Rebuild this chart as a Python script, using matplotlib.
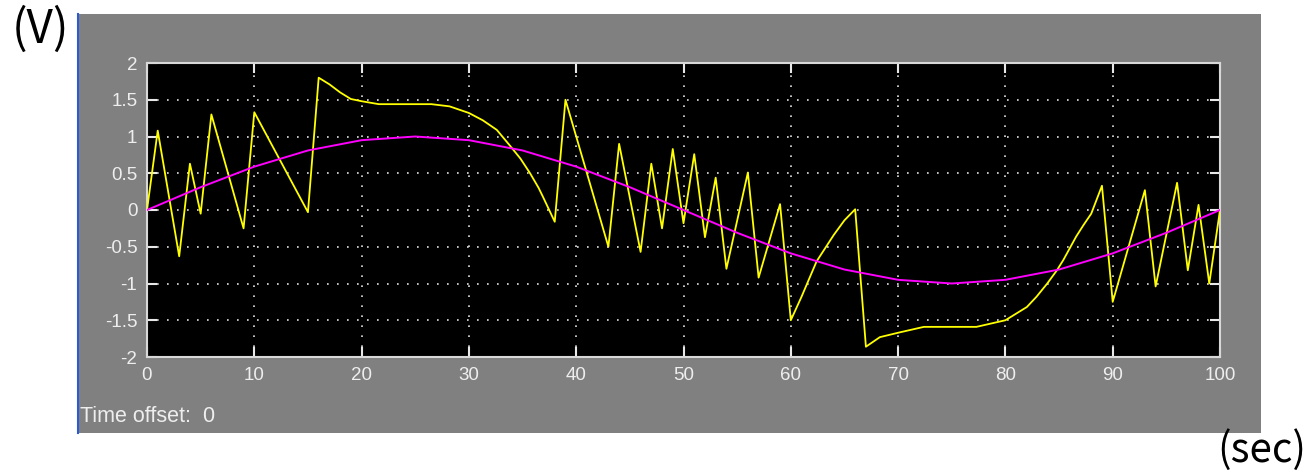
import matplotlib
matplotlib.use("Agg")
import matplotlib.pyplot as plt
import matplotlib.patches as mpatches
from matplotlib.lines import Line2D

# scope traces (time in sec, value in V)
yellow_t = [0, 1, 3, 4, 5, 6, 9, 10, 15, 16, 17, 18, 19, 20, 21.6, 26.5, 28.2, 30, 31.3, 32.6,
            33.8, 34.8, 35.7, 36.5, 36.9, 38, 39, 43, 44, 46, 47, 48, 49, 50, 51, 52, 53, 54, 56, 57, 59, 60,
            61, 62.4, 63.2, 64, 65, 66, 67, 68.3, 70, 72.4, 77.3, 80, 81, 82, 82.9, 83.9, 84.8, 85.4, 86.6, 87.3,
            88, 89, 90, 93, 94, 96, 97, 98, 99, 100]
yellow_v = [0, 1.08, -0.63, 0.63, -0.05, 1.3, -0.25, 1.33, -0.03, 1.8, 1.71, 1.6, 1.51, 1.48, 1.44, 1.44, 1.41, 1.32, 1.22, 1.09,
            0.88, 0.7, 0.5, 0.3, 0.18, -0.16, 1.5, -0.5, 0.9, -0.57, 0.63, -0.25, 0.83, -0.18, 0.76, -0.37, 0.44, -0.8, 0.51, -0.92, 0.08, -1.5,
            -1.18, -0.7, -0.52, -0.34, -0.14, 0.01, -1.86, -1.73, -1.67, -1.59, -1.59, -1.5, -1.41, -1.32, -1.18, -1.0, -0.82, -0.68, -0.36, -0.2,
            -0.05, 0.33, -1.25, 0.27, -1.04, 0.37, -0.82, 0.07, -1.0, 0]

magenta_t = [0, 5, 10, 15, 20, 25, 30, 35, 40, 45, 50, 55, 60, 65, 70, 75, 80, 85, 90, 95, 100]
magenta_v = [0, 0.31, 0.59, 0.81, 0.95, 1.0, 0.95, 0.81, 0.59, 0.31, 0, -0.31, -0.59, -0.81, -0.95, -1.0,
             -0.95, -0.81, -0.59, -0.31, 0]

x_ticks = [0, 10, 20, 30, 40, 50, 60, 70, 80, 90, 100]
y_ticks = [-2, -1.5, -1, -0.5, 0, 0.5, 1, 1.5, 2]
y_labels = ["-2", "-1.5", "-1", "-0.5", "0", "0.5", "1", "1.5", "2"]

W, H = 1313, 470
fig = plt.figure(figsize=(W / 100, H / 100), dpi=100)
fig.patch.set_facecolor("white")

# gray scope panel with blue left edge
fig.patches.append(mpatches.Rectangle((78 / W, 1 - 433 / H), (1261 - 78) / W, (433 - 14) / H,
                                      transform=fig.transFigure, facecolor="#808080", edgecolor="none", zorder=0))
fig.lines.append(Line2D([77.5 / W, 77.5 / W], [1 - 433 / H, 1 - 14 / H], transform=fig.transFigure,
                        color="#2a5bd7", linewidth=1.5, zorder=1))

ax = fig.add_axes([147 / W, 1 - 357 / H, (1220 - 147) / W, (357 - 63) / H])
ax.set_zorder(2)
ax.set_facecolor("black")

ax.plot(yellow_t, yellow_v, color="#ffff00", linewidth=1.3, zorder=3)
ax.plot(magenta_t, magenta_v, color="#ff00ff", linewidth=1.4, zorder=4)

ax.set_xlim(0, 100)
ax.set_ylim(-2, 2)
ax.set_xticks(x_ticks)
ax.set_yticks(y_ticks)
ax.set_yticklabels(y_labels)
ax.grid(True, color="#e0e0e0", linestyle=(0, (1, 5)), linewidth=1.2)

for lab in ax.get_xticklabels() + ax.get_yticklabels():
    lab.set_fontfamily("Liberation Sans")
    lab.set_fontsize(13.5)
ax.tick_params(direction="in", length=7, width=1.5, color="#e8e8e8", labelcolor="#eeeeee",
               top=True, right=True, pad=7)
for sp in ax.spines.values():
    sp.set_color("#d8d8d8")
    sp.set_linewidth(1.5)

fig.text(80 / W, 1 - 416 / H, "Time offset:  0", color="#eeeeee", fontfamily="Liberation Sans",
         fontsize=15.5, va="center", ha="left", zorder=3)

fig.text(12 / W, 1 - 30 / H, "(V)", color="black", fontfamily=["Noto Sans CJK JP", "DejaVu Sans"],
         fontsize=33, va="center", ha="left")
fig.text(1217 / W, 1 - 450 / H, "(sec)", color="black", fontfamily=["Noto Sans CJK JP", "DejaVu Sans"],
         fontsize=29, va="center", ha="left")

fig.savefig("out.png", dpi=100, facecolor="white")
